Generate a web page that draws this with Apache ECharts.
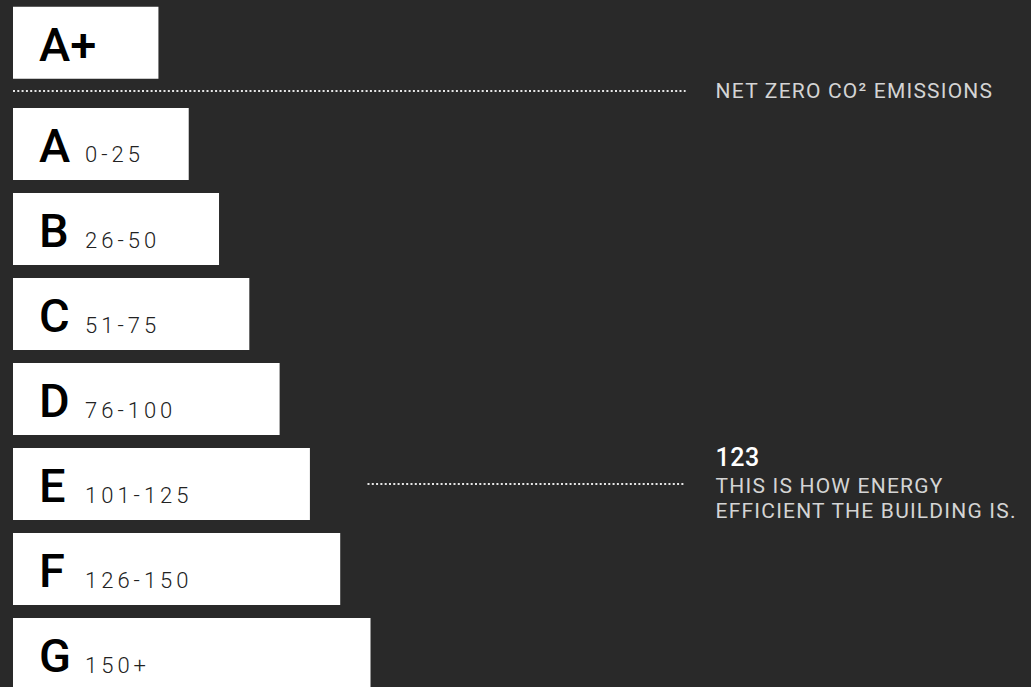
<!DOCTYPE html>
<html><head><meta charset="utf-8">
<script src="https://cdn.jsdelivr.net/npm/echarts@6/dist/echarts.min.js"></script>
<style>
html,body{margin:0;padding:0;background:#292929;}
#c{width:1031px;height:687px;}
#c text[style*="22px"]{letter-spacing:4px;}
#c text[style*="21px"]{letter-spacing:1.2px;}
#c text[style*="25px"]{letter-spacing:0.5px;}
</style></head><body><div id="c"></div>
<script>
const ratings = ['A+', 'A', 'B', 'C', 'D', 'E', 'F', 'G'];
const ranges = ['', '0-25', '26-50', '51-75', '76-100', '101-125', '126-150', '150+'];
const barLengths = [4.8, 5.8, 6.8, 7.8, 8.8, 9.8, 10.8, 11.8];
const netZeroLabel = 'NET ZERO CO² EMISSIONS';
const buildingScore = 123;
const buildingRating = 'E';
const scoreCaption = ['THIS IS HOW ENERGY', 'EFFICIENT THE BUILDING IS.'];

const rowOf = i => (i === 0 ? -0.19 : i);
const barData = ratings.map((r, i) => [barLengths[i], rowOf(i)]);
const noteData = [
  [0, 22.2, 0.376],
  [11.7, 22.2, rowOf(ratings.indexOf(buildingRating))]
];

const chart = echarts.init(document.getElementById('c'), null, {renderer: 'svg'});
chart.setOption({
  backgroundColor: '#292929',
  animation: false,
  grid: {left: 13, right: 0, top: 0, bottom: 0},
  xAxis: {type: 'value', min: 0, max: 33.6, show: false},
  yAxis: {type: 'value', inverse: true, min: -0.694, max: 7.388, show: false},
  series: [
    {
      type: 'custom',
      data: barData,
      renderItem: (params, api) => {
        const i = params.dataIndex;
        const row = api.value(1);
        const p0 = api.coord([0, row]);
        const p1 = api.coord([api.value(0), row]);
        const h = api.size([0, 0.847])[1];
        return {
          type: 'group',
          children: [
            {type: 'rect', shape: {x: p0[0], y: p0[1] - h / 2, width: p1[0] - p0[0], height: h}, style: {fill: '#ffffff'}},
            {type: 'text', x: p0[0] + 26, y: p0[1] + 1.5,
              style: {text: ratings[i], fill: '#000', fontSize: 47, fontWeight: 500, fontFamily: 'Roboto', verticalAlign: 'middle', align: 'left'}},
            {type: 'text', x: p0[0] + 72, y: p0[1] + 11,
              style: {text: ranges[i], fill: '#222', fontSize: 22, fontWeight: 300, fontFamily: 'Roboto', verticalAlign: 'middle', align: 'left'}}
          ]
        };
      }
    },
    {
      type: 'custom',
      data: noteData,
      renderItem: (params, api) => {
        const i = params.dataIndex;
        const a = api.coord([api.value(0), api.value(2)]);
        const b = api.coord([api.value(1), api.value(2)]);
        const children = [
          {type: 'line', shape: {x1: a[0], y1: a[1], x2: b[0], y2: b[1]},
            style: {stroke: '#e6e6e6', lineWidth: 2, lineDash: [2, 2.3]}}
        ];
        const tx = b[0] + 30;
        const base = {fontFamily: 'Roboto', verticalAlign: 'middle', align: 'left'};
        if (i === 0) {
          children.push({type: 'text', x: tx, y: a[1], style: Object.assign({text: netZeroLabel, fill: '#d4d4d4', fontSize: 21, fontWeight: 400}, base)});
        } else {
          children.push({type: 'text', x: tx, y: a[1] - 27, style: Object.assign({text: String(buildingScore), fill: '#ffffff', fontSize: 25, fontWeight: 500}, base)});
          scoreCaption.forEach((t, k) => {
            children.push({type: 'text', x: tx, y: a[1] + 1.5 + k * 25, style: Object.assign({text: t, fill: '#d4d4d4', fontSize: 21, fontWeight: 400}, base)});
          });
        }
        return {type: 'group', children};
      }
    }
  ]
});
</script></body></html>
